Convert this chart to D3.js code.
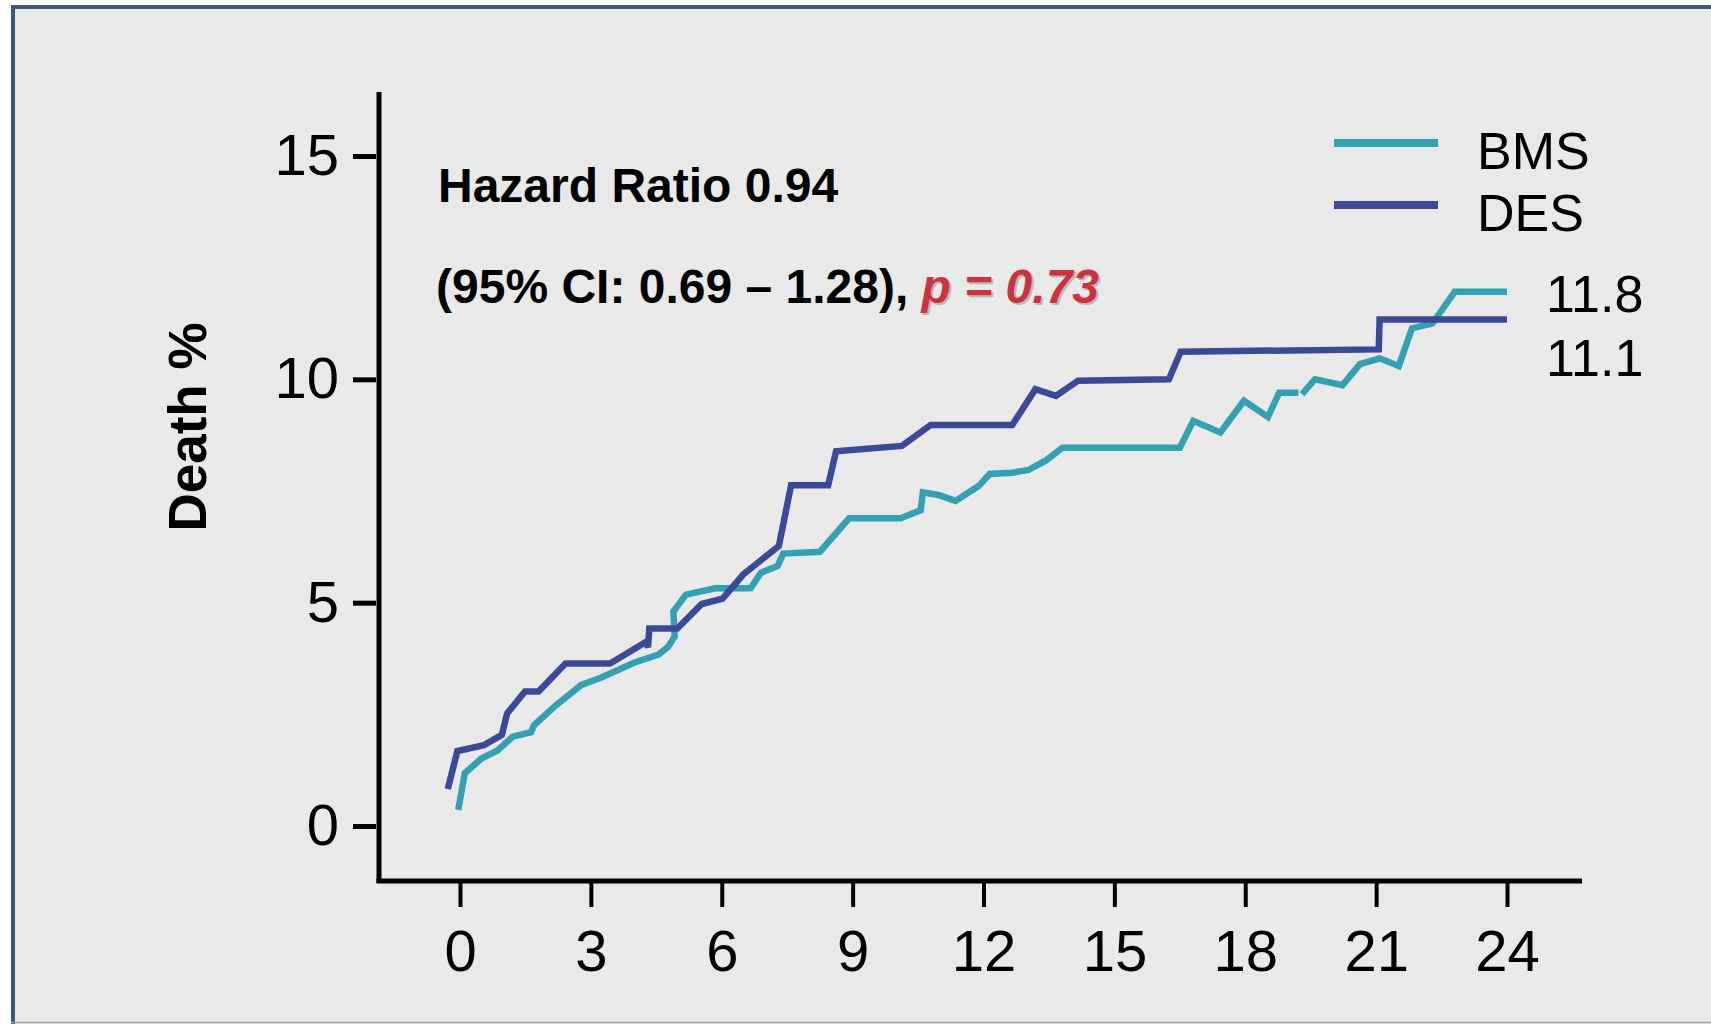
<!DOCTYPE html>
<html>
<head>
<meta charset="utf-8">
<script src="https://cdn.jsdelivr.net/npm/d3@7"></script>
<style>
  html, body { margin: 0; padding: 0; background: #ffffff; }
  svg { display: block; }
  text { font-family: "Liberation Sans", Arial, sans-serif; white-space: pre; }
</style>
</head>
<body>
<div id="chart"></div>
<script>
// months since PCI vs cumulative death %
const bmsMonths = [-0.04, 0.11, 0.49, 0.86, 1.21, 1.63, 1.70, 2.21, 2.78, 3.23, 4.00, 4.55, 4.77, 4.92, 4.89, 5.18, 5.85, 6.66, 6.90, 7.28, 7.41, 8.25, 8.92, 10.10, 10.56, 10.61, 10.96, 11.36, 11.89, 12.14, 12.66, 13.03, 13.44, 13.81, 16.50, 16.81, 17.43, 17.97, 18.52, 18.78, 19.22, 19.26, 19.30, 19.60, 20.23, 20.63, 21.08, 21.52, 21.82, 22.29, 22.80, 24.00];
const bmsDeath  = [0.36, 1.18, 1.51, 1.69, 2.00, 2.10, 2.26, 2.71, 3.16, 3.32, 3.66, 3.84, 4.01, 4.24, 4.80, 5.18, 5.32, 5.32, 5.67, 5.82, 6.10, 6.14, 6.89, 6.89, 7.07, 7.47, 7.41, 7.28, 7.61, 7.88, 7.91, 7.97, 8.19, 8.47, 8.47, 9.07, 8.81, 9.52, 9.16, 9.70, 9.70, null, 9.67, 10.00, 9.87, 10.34, 10.47, 10.30, 11.14, 11.25, 11.96, 11.96];

const desMonths = [-0.28, -0.06, 0.55, 0.96, 1.08, 1.49, 1.80, 2.42, 3.44, 4.26, 4.31, 4.34, 4.98, 5.54, 6.02, 6.49, 7.31, 7.59, 8.44, 8.62, 10.13, 10.79, 12.66, 13.19, 13.66, 14.17, 16.25, 16.52, 21.06, 21.08, 24.00];
const desDeath  = [0.83, 1.68, 1.81, 2.04, 2.52, 3.01, 3.01, 3.64, 3.64, 4.12, 4.00, 4.42, 4.42, 4.97, 5.09, 5.63, 6.27, 7.63, 7.63, 8.39, 8.51, 8.98, 8.98, 9.78, 9.63, 9.97, 10.00, 10.62, 10.67, 11.34, 11.34];

const seriesNames = ["BMS", "DES"];
const seriesColors = ["#34a0b3", "#3b4a97"];
const endLabels = ["11.8", "11.1"];

const xTicks = [0, 3, 6, 9, 12, 15, 18, 21, 24];
const yTicks = [0, 5, 10, 15];

const yTitle = "Death %";
const hrLine = "Hazard Ratio 0.94";
const ciLine = "(95% CI: 0.69 \u2013 1.28), ";
const pText = "p = 0.73";

const width = 1711;
const height = 1024;

const svg = d3.select("#chart")
  .append("svg")
  .attr("width", width)
  .attr("height", height);

// slide frame
svg.append("rect")
  .attr("x", 11).attr("y", 5)
  .attr("width", width - 11).attr("height", height - 5)
  .attr("fill", "#e9e9e9");
svg.append("line")
  .attr("x1", 11).attr("x2", width).attr("y1", 7).attr("y2", 7)
  .attr("stroke", "#3c5879").attr("stroke-width", 4);
svg.append("line")
  .attr("x1", 13).attr("x2", 13).attr("y1", 5).attr("y2", height)
  .attr("stroke", "#3c5879").attr("stroke-width", 4);
svg.append("line")
  .attr("x1", 11).attr("x2", width).attr("y1", 1022.5).attr("y2", 1022.5)
  .attr("stroke", "#9aa4ae").attr("stroke-width", 1.5);

const x = d3.scaleLinear().domain([0, 24]).range([460, 1507]);
const y = d3.scaleLinear().domain([0, 15]).range([826, 156]);

// axes
const yAxis = svg.append("g")
  .attr("transform", "translate(376,0)")
  .call(d3.axisLeft(y).tickValues(yTicks).tickSize(23).tickPadding(14));
yAxis.select(".domain").remove();
yAxis.selectAll(".tick line").attr("stroke", "#000").attr("stroke-width", 5);
yAxis.selectAll(".tick text")
  .attr("fill", "#000")
  .style("font-size", "58px");

const xAxis = svg.append("g")
  .attr("transform", "translate(0,883)")
  .call(d3.axisBottom(x).tickValues(xTicks).tickSize(24).tickPadding(23));
xAxis.select(".domain").remove();
xAxis.selectAll(".tick line").attr("stroke", "#000").attr("stroke-width", 4);
xAxis.selectAll(".tick text")
  .attr("fill", "#000")
  .style("font-size", "58px");

svg.append("line")
  .attr("x1", 379).attr("x2", 379).attr("y1", 92).attr("y2", 883)
  .attr("stroke", "#000").attr("stroke-width", 5);
svg.append("line")
  .attr("x1", 376.5).attr("x2", 1582).attr("y1", 881).attr("y2", 881)
  .attr("stroke", "#000").attr("stroke-width", 5);

svg.append("text")
  .attr("transform", "translate(206,427) rotate(-90)")
  .attr("text-anchor", "middle")
  .style("font-size", "53px")
  .style("font-weight", "bold")
  .text(yTitle);

// curves
const line = d3.line()
  .defined(d => d[1] !== null)
  .x(d => x(d[0]))
  .y(d => y(d[1]));

const series = [
  d3.zip(bmsMonths, bmsDeath),
  d3.zip(desMonths, desDeath)
];

svg.selectAll("path.curve")
  .data(series)
  .enter()
  .append("path")
  .attr("class", "curve")
  .attr("d", line)
  .attr("fill", "none")
  .attr("stroke", (d, i) => seriesColors[i])
  .attr("stroke-width", 6.5)
  .attr("stroke-linejoin", "miter");

// end values
svg.selectAll("text.end")
  .data(endLabels)
  .enter()
  .append("text")
  .attr("class", "end")
  .attr("x", 1546)
  .attr("y", (d, i) => 312 + i * 64)
  .style("font-size", "52px")
  .text(d => d);

// legend
const legend = svg.selectAll("g.legend")
  .data(seriesNames)
  .enter()
  .append("g")
  .attr("class", "legend")
  .attr("transform", (d, i) => "translate(0," + (143 + i * 62) + ")");
legend.append("line")
  .attr("x1", 1334).attr("x2", 1438)
  .attr("stroke", (d, i) => seriesColors[i])
  .attr("stroke-width", 8);
legend.append("text")
  .attr("x", 1477)
  .attr("y", 26)
  .style("font-size", "52px")
  .text(d => d);

// hazard ratio annotation
svg.append("text")
  .attr("x", 438).attr("y", 202)
  .style("font-size", "48px")
  .style("font-weight", "bold")
  .text(hrLine);

const ci = svg.append("text")
  .attr("x", 436).attr("y", 303)
  .style("font-size", "48px")
  .style("font-weight", "bold")
  .text(ciLine);

const ciWidth = ci.node().getComputedTextLength();
svg.append("text")
  .attr("x", 436 + ciWidth + 2).attr("y", 305)
  .attr("fill", "#b9b9b9")
  .style("font-size", "48px")
  .style("font-weight", "bold")
  .style("font-style", "italic")
  .text(pText);
svg.append("text")
  .attr("x", 436 + ciWidth).attr("y", 303)
  .attr("fill", "#cb343f")
  .style("font-size", "48px")
  .style("font-weight", "bold")
  .style("font-style", "italic")
  .text(pText);
</script>
</body>
</html>
